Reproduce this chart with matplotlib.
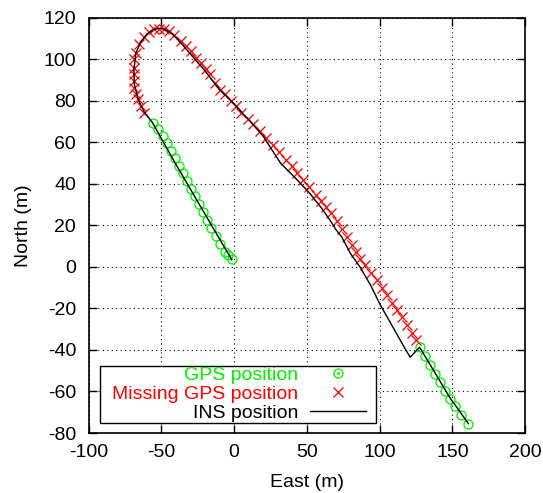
import matplotlib
matplotlib.use("Agg")
import matplotlib.pyplot as plt
from matplotlib.lines import Line2D
from matplotlib.patches import Rectangle
from matplotlib.legend_handler import HandlerTuple

plt.rcParams['font.family'] = ['Liberation Sans', 'DejaVu Sans']
plt.rcParams['axes.unicode_minus'] = False

# GPS positions (green circles)
gps1_east = [-55.5, -52.3, -49.0, -46.3, -43.5, -40.8, -38.0, -35.3, -32.5, -29.8,
             -27.0, -24.2, -21.3, -18.4, -15.5, -12.4, -9.3, -6.1, -3.9, -1.6]
gps1_north = [69.2, 66.6, 63.2, 59.7, 56.0, 52.4, 48.8, 45.1, 41.4, 37.7,
              34.0, 30.2, 26.4, 22.6, 18.8, 15.0, 11.2, 7.4, 6.0, 3.7]
gps2_east = [127.5, 131.2, 134.8, 138.3, 141.8, 145.2, 148.6, 152.0, 156.0, 160.8]
gps2_north = [-38.7, -43.0, -47.3, -51.5, -55.6, -59.6, -63.4, -67.2, -71.3, -75.5]

# Missing GPS positions (red crosses)
miss_east = [-61.9, -64.2, -66.1, -67.5, -68.4, -68.8, -68.4, -68.8, -68.4, -67.7,
             -65.4, -61.9, -58.5, -55.0, -51.6, -48.2, -44.7, -41.3, -36.7, -33.2,
             -29.8, -26.3, -22.9, -19.4, -16.8, -13.3, -9.9, -6.4, -1.8, 1.6,
             5.0, 9.6, 13.1, 17.7, 22.3, 26.5, 31.0, 35.5, 40.1, 43.6,
             47.5, 51.6, 56.0, 59.6, 63.1, 66.5, 70.5, 74.0, 77.5, 80.9,
             83.6, 86.9, 90.3, 94.3, 98.0, 101.6, 105.1, 108.5, 111.9, 115.4,
             118.8, 122.0, 124.8]
miss_north = [74.3, 77.5, 80.7, 83.5, 86.3, 89.6, 92.8, 96.0, 100.0, 103.2,
              107.2, 110.9, 113.2, 114.5, 114.8, 114.5, 113.7, 112.0, 108.8, 106.4,
              104.0, 100.8, 98.4, 95.5, 92.8, 88.8, 85.5, 83.1, 80.0, 77.5,
              74.3, 71.1, 68.7, 65.5, 62.2, 58.8, 55.3, 51.5, 48.5, 45.5,
              42.0, 38.3, 34.8, 31.9, 28.8, 25.8, 22.2, 18.5, 14.5, 10.7,
              7.3, 4.0, 0.8, -2.9, -6.3, -10.1, -13.5, -17.3, -20.7, -24.3,
              -27.9, -31.7, -35.0]

# INS position (black line)
ins_east = [-1.5, -10, -20, -30, -40, -50, -56, -62, -66, -68.5, -68.8, -67.5, -64,
            -59.5, -55, -51, -47, -42, -36, -28, -20, -10, 0, 10, 20, 32, 44, 52,
            60, 66, 70, 74, 80, 87, 94, 100.5, 110, 116, 121, 127.5, 134.5, 141.5,
            148.5, 155, 161]
ins_north = [3.5, 13.5, 25.5, 37.5, 49.5, 62, 69.5, 75, 81, 88, 95, 103, 108.5,
             112.5, 114.5, 115, 114.3, 112, 107.5, 101, 94.5, 85.5, 78.5, 71, 63, 50,
             41.5, 35.5, 28.5, 22.5, 18, 14.5, 6.5, -0.5, -9, -18.3, -30, -37.5, -43.5,
             -38.7, -46.8, -55, -63.2, -69.5, -75.5]

x_ticks = [-100, -50, 0, 50, 100, 150, 200]
y_ticks = [-80, -60, -40, -20, 0, 20, 40, 60, 80, 100, 120]
labels = ['GPS position', 'Missing GPS position', 'INS position']

fig = plt.figure(figsize=(5.43, 4.93), dpi=100)
ax = fig.add_axes([0.163, 0.1217, 0.804, 0.842])

green = '#00ee00'
red = '#ff0000'
ms = 6.5
fs = 14

ax.plot(ins_east, ins_north, color='black', lw=1.0, zorder=3)
ax.plot(gps1_east, gps1_north, ls='none', marker='o', mfc='none', mec=green,
        ms=ms, mew=0.9, zorder=2)
ax.plot(gps2_east, gps2_north, ls='none', marker='o', mfc='none', mec=green,
        ms=ms, mew=0.9, zorder=2)
ax.plot(miss_east, miss_north, ls='none', marker='x', color=red,
        ms=ms, mew=0.9, zorder=2)

ax.set_xlim(-100, 200)
ax.set_ylim(-80, 120)
ax.set_xticks(x_ticks)
ax.set_yticks(y_ticks)
ax.tick_params(direction='in', top=True, right=True, length=6, width=1,
               labelsize=fs, colors='black')
ax.tick_params(axis='x', pad=8)
ax.tick_params(axis='y', pad=9)
ax.grid(True, ls=(0, (1, 3)), color='black', lw=0.8)
for s in ax.spines.values():
    s.set_linewidth(1.2)

ax.set_xlabel('East (m)', fontsize=fs, labelpad=9)
ax.set_ylabel('North (m)', fontsize=fs, labelpad=8)

# legend frame
ax.add_patch(Rectangle((0.0263, 0.0241), 0.6324, 0.1373, transform=ax.transAxes,
                       facecolor='white', edgecolor='black', lw=1.0, zorder=4))

h_gps = (Line2D([], [], ls='none', marker='o', mfc='none', mec=green, ms=ms, mew=0.9),
         Line2D([], [], ls='none', marker='.', color=green, ms=2))
h_miss = Line2D([], [], ls='none', marker='x', color=red, ms=ms, mew=0.9)
h_ins = Line2D([], [], color='black', lw=1.0)

leg = ax.legend([h_gps, h_miss, h_ins], labels,
                handler_map={tuple: HandlerTuple(ndivide=1, pad=0)},
                loc='center', bbox_to_anchor=(0.3448, 0.094), borderaxespad=0,
                markerfirst=False, fontsize=fs, labelcolor=[green, red, 'black'],
                frameon=False, handlelength=2.85, handletextpad=0.6,
                labelspacing=0.08, borderpad=0)
leg.set_zorder(5)

fig.savefig('out.png', dpi=100)
